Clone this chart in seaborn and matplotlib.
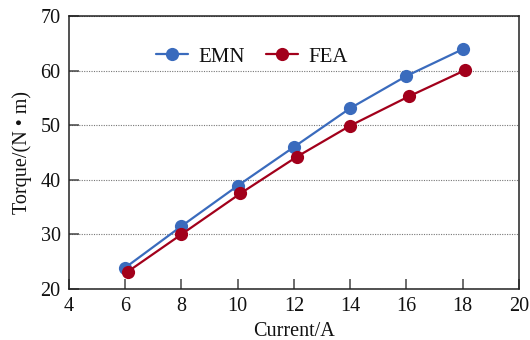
import matplotlib
matplotlib.use("Agg")
import matplotlib.pyplot as plt
import seaborn as sns
import pandas as pd

# Torque vs. current: electromagnetic network model against finite element analysis
current_emn = [6, 8, 10, 12, 14, 16, 18]
torque_emn = [23.9, 31.5, 38.9, 46.0, 53.1, 59.0, 63.9]
current_fea = [6.1, 8.0, 10.1, 12.1, 14.0, 16.1, 18.1]
torque_fea = [23.2, 30.0, 37.5, 44.2, 49.9, 55.3, 60.1]
series_names = ["EMN", "FEA"]
series_colors = ["#3a6bbd", "#a2001b"]
x_ticks = [4, 6, 8, 10, 12, 14, 16, 18, 20]
y_ticks = [20, 30, 40, 50, 60, 70]

df = pd.concat([
    pd.DataFrame({"Current": current_emn, "Torque": torque_emn, "Method": series_names[0]}),
    pd.DataFrame({"Current": current_fea, "Torque": torque_fea, "Method": series_names[1]}),
])

sns.set_theme(style="white")
plt.rcParams["font.family"] = ["Liberation Serif", "DejaVu Serif"]

fig = plt.figure(figsize=(5.3, 3.4), dpi=100)
ax = fig.add_axes([0.130, 0.150, 0.849, 0.803])

sns.lineplot(data=df, x="Current", y="Torque", hue="Method",
             palette=dict(zip(series_names, series_colors)),
             marker="o", markersize=9.5, markeredgewidth=0, linewidth=1.6,
             ax=ax, zorder=3)

ax.set_xlim(4, 20)
ax.set_ylim(20, 70)
ax.set_xticks(x_ticks)
ax.set_yticks(y_ticks)
ax.yaxis.grid(True, linestyle=(0, (1, 1.2)), color="#777777", linewidth=0.8)
ax.xaxis.grid(False)

for s in ax.spines.values():
    s.set_color("#222222")
    s.set_linewidth(1.1)

ax.tick_params(axis="both", direction="in", length=7, width=1.1, color="#444444",
               labelsize=14.5, labelcolor="#111111", pad=6)
ax.tick_params(top=False, right=False, bottom=True, left=True)

ax.set_xlabel("Current/A", fontsize=14.5, color="#111111", labelpad=4)
ax.set_ylabel("Torque/(N • m)", fontsize=14.5, color="#111111", labelpad=6)

leg = ax.legend(ncol=2, frameon=False, loc="upper left",
                bbox_to_anchor=(0.152, 0.955), fontsize=15,
                handlelength=1.55, columnspacing=1.0, handletextpad=0.5)
for t in leg.get_texts():
    t.set_color("#111111")

fig.savefig("out.png", dpi=100, facecolor="white")
